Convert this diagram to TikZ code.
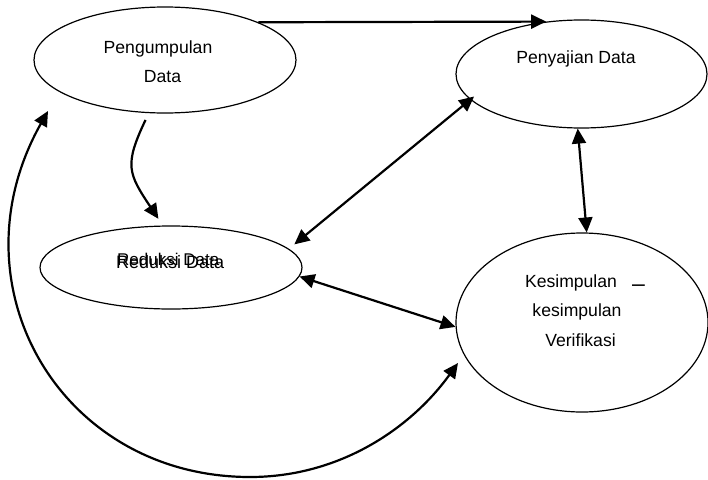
\documentclass[tikz,border=0pt]{standalone}
\usepackage{fontspec}
\setmainfont{Liberation Sans}
\usetikzlibrary{arrows.meta,shapes.geometric}
\begin{document}
\begin{tikzpicture}[x=1pt,y=-1pt,
  ell/.style={draw,ellipse,line width=1.2pt,inner sep=0pt},
  lbl/.style={inner sep=0pt,font=\fontsize{17.6}{21}\selectfont},
  arr/.style={line width=2.2pt,-{Triangle[length=15pt,width=14pt]}},
  dbl/.style={line width=2.2pt,{Triangle[length=15pt,width=14pt]}-{Triangle[length=15pt,width=14pt]}}]
\useasboundingbox[fill=white] (0,0) rectangle (708,479);
% ellipses
\node[ell,minimum width=262pt,minimum height=106pt] (pd) at (165,60) {};
\node[ell,minimum width=251pt,minimum height=108pt] (ps) at (581.5,74) {};
\node[ell,minimum width=262pt,minimum height=83pt] (rd) at (171,267.5) {};
\node[ell,minimum width=252pt,minimum height=179pt] (ks) at (582,322.5) {};
% texts
\node[lbl,anchor=base] (t1) at (158,53) {Pengumpulan};
\node[lbl,anchor=base] (t2) at (162.5,82) {Data};
\node[lbl,anchor=base] (t3) at (576,63) {Penyajian Data};
\node[lbl,anchor=base west,font=\fontsize{18}{21}\selectfont] (t4) at (116,268) {Reduksi Data};
\node[lbl,anchor=base west,font=\fontsize{17}{21}\selectfont] (t5) at (117,265) {Reduksi Data};
\node[lbl,anchor=base] (t6) at (571,287) {Kesimpulan};
\node[lbl,anchor=base west,font=\fontsize{23}{23}\selectfont] (t7) at (632,291) {–};
\node[lbl,anchor=base] (t8) at (577,316) {kesimpulan};
\node[lbl,anchor=base] (t9) at (580.5,346) {Verifikasi};
% connectors
\draw[arr] (pd.22) -- (ps.124);
\draw[arr,shorten <=7.5pt,shorten >=8pt] (pd.253) .. controls +(-24.7,51.9) and +(-34.7,-52.1) .. (rd.101);
\draw[dbl,shorten <=7pt,shorten >=-5pt] (rd.9) -- (ps.193);
\draw[dbl] (ps.266) -- (ks.87);
\draw[dbl] (rd.356) -- (ks.182);
\coordinate (b1) at (48,111);
\coordinate (b2) at (250,477);
\coordinate (b3) at (458,363);
\draw[dbl] (b1) .. controls (-50,285) and (60,477) .. (b2) .. controls (340,477) and (411,428) .. (b3);
\end{tikzpicture}
\end{document}
